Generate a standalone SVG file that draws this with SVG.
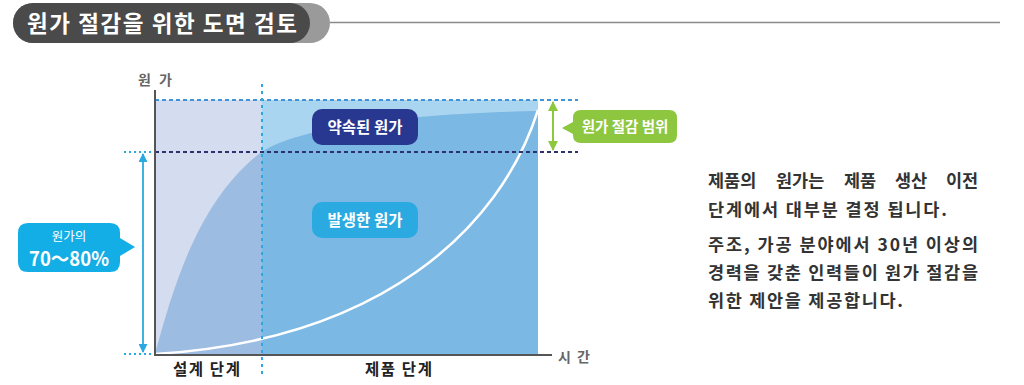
<svg xmlns="http://www.w3.org/2000/svg" width="1024" height="385" viewBox="0 0 1024 385">
<defs>
<style>
.k{font-family:"Noto Sans CJK KR","Noto Sans",sans-serif;}
.w{fill:#fff;font-weight:bold;}
.body{font-size:17.5px;fill:#333;font-weight:600;}
</style>
<marker id="ab" viewBox="0 0 10 10" refX="9" refY="5" markerWidth="5" markerHeight="5" orient="auto-start-reverse"><path d="M0,0 L10,5 L0,10 z" fill="#2aa9e0"/></marker>
<marker id="ag" viewBox="0 0 10 10" refX="9" refY="5" markerWidth="5" markerHeight="5" orient="auto-start-reverse"><path d="M0,0 L10,5 L0,10 z" fill="#8dc63f"/></marker>
<clipPath id="cl"><rect x="155" y="100" width="107" height="254"/></clipPath>
<clipPath id="cr"><rect x="262" y="100" width="276" height="254"/></clipPath>
</defs>

<g id="title">
<rect x="13" y="3" width="317" height="40" rx="20" fill="#9a9a9a"/>
<rect x="13" y="3" width="297" height="40" rx="20" fill="#4a4a4a"/>
<line x1="330" y1="22.5" x2="1000" y2="22.5" stroke="#8a8a8a" stroke-width="1.5"/>
<text class="k w" x="27" y="32" font-size="22.5" textLength="270" lengthAdjust="spacing">원가 절감을 위한 도면 검토</text>
</g>

<g id="chart">
<rect x="155" y="100" width="107" height="254" fill="#d4dcef"/>
<rect x="262" y="100" width="276" height="254" fill="#aad5f0"/>
<path d="M155,354 C175,280 200,200 260,153 C300,125 420,113 538,111 L538,354 Z" fill="#9cbce1" clip-path="url(#cl)"/>
<path d="M155,354 C175,280 200,200 260,153 C300,125 420,113 538,111 L538,354 Z" fill="#7bb8e4" clip-path="url(#cr)"/>
<path d="M155,354 C380,340 500,230 538,110" fill="none" stroke="#fff" stroke-width="2.5"/>
</g>

<g id="connectors">
<line x1="155" y1="100" x2="578" y2="100" stroke="#3f94d9" stroke-width="2" stroke-dasharray="4,3"/>
<line x1="155" y1="152" x2="578" y2="152" stroke="#2e3170" stroke-width="2" stroke-dasharray="4,3"/>
<line x1="124" y1="152" x2="155" y2="152" stroke="#2aa9e0" stroke-width="2" stroke-dasharray="2,3"/>
<line x1="124" y1="354" x2="155" y2="354" stroke="#2aa9e0" stroke-width="2" stroke-dasharray="2,3"/>
<line x1="262" y1="84" x2="262" y2="376" stroke="#2aa9e0" stroke-width="2" stroke-dasharray="3,4"/>
<line x1="155" y1="90" x2="155" y2="355" stroke="#555" stroke-width="2"/>
<line x1="154" y1="355" x2="552" y2="355" stroke="#555" stroke-width="2"/>
<line x1="143" y1="154" x2="143" y2="352" stroke="#2aa9e0" stroke-width="1.8" marker-start="url(#ab)" marker-end="url(#ab)"/>
<line x1="553" y1="102" x2="553" y2="150" stroke="#8dc63f" stroke-width="2" marker-start="url(#ag)" marker-end="url(#ag)"/>
</g>

<g id="axis-labels">
<text class="k" x="138" y="85" font-size="14" font-weight="bold" fill="#666" textLength="34" lengthAdjust="spacing">원 가</text>
<text class="k" x="558" y="362" font-size="14" font-weight="bold" fill="#666" textLength="32" lengthAdjust="spacing">시 간</text>
<text class="k" x="173" y="375" font-size="15.5" font-weight="bold" fill="#222" textLength="67" lengthAdjust="spacing">설계 단계</text>
<text class="k" x="365" y="375" font-size="15.5" font-weight="bold" fill="#222" textLength="67" lengthAdjust="spacing">제품 단계</text>
</g>

<g id="promised">
<rect x="312" y="109" width="106" height="36" rx="10" fill="#283790"/>
<text class="k w" x="365" y="133" font-size="15.5" text-anchor="middle">약속된 원가</text>
</g>

<g id="incurred">
<rect x="312" y="202" width="106" height="36" rx="10" fill="#2aaae1"/>
<text class="k w" x="365" y="226" font-size="15.5" text-anchor="middle">발생한 원가</text>
</g>

<g id="saving-range">
<path d="M581,110 H669 Q677,110 677,118 V135 Q677,143 669,143 H581 Q573,143 573,135 V134 L562,128 L573,122 V118 Q573,110 581,110 Z" fill="#8dc63f"/>
<text class="k w" x="625" y="132" font-size="14.5" text-anchor="middle">원가 절감 범위</text>
</g>

<g id="share">
<path d="M28,223 H110 Q120,223 120,233 V238 L135,247 L120,256 V262 Q120,272 110,272 H28 Q18,272 18,262 V233 Q18,223 28,223 Z" fill="#13aee6"/>
<text class="k" x="69" y="241" font-size="12.5" fill="#fff" text-anchor="middle">원가의</text>
<text class="k" x="69" y="266" font-size="19.5" fill="#fff" font-weight="600" text-anchor="middle" textLength="80" lengthAdjust="spacingAndGlyphs">70～80%</text>
</g>

<g id="description">
<text class="k body" y="187"><tspan x="708">제품의</tspan><tspan x="776">원가는</tspan><tspan x="844">제품</tspan><tspan x="895">생산</tspan><tspan x="946">이전</tspan></text>
<text class="k body" x="708" y="216" textLength="239" lengthAdjust="spacing">단계에서 대부분 결정 됩니다.</text>
<text class="k body" x="708" y="251" textLength="270" lengthAdjust="spacing">주조, 가공 분야에서 30년 이상의</text>
<text class="k body" x="708" y="279" textLength="270" lengthAdjust="spacing">경력을 갖춘 인력들이 원가 절감을</text>
<text class="k body" x="708" y="307" textLength="195" lengthAdjust="spacing">위한 제안을 제공합니다.</text>
</g>
</svg>
